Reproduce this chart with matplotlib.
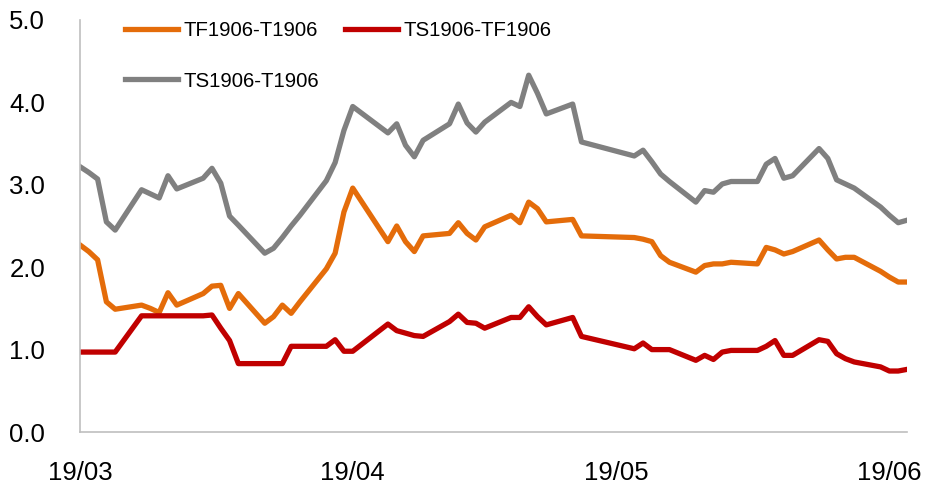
import matplotlib
matplotlib.use("Agg")
import matplotlib.pyplot as plt
import matplotlib.dates as mdates
import pandas as pd

dates = [
    "2019-03-04", "2019-03-05", "2019-03-06", "2019-03-07", "2019-03-08",
    "2019-03-11", "2019-03-12", "2019-03-13", "2019-03-14", "2019-03-15",
    "2019-03-18", "2019-03-19", "2019-03-20", "2019-03-21", "2019-03-22",
    "2019-03-25", "2019-03-26", "2019-03-27", "2019-03-28", "2019-03-29",
    "2019-04-01", "2019-04-02", "2019-04-03", "2019-04-04",
    "2019-04-08", "2019-04-09", "2019-04-10", "2019-04-11", "2019-04-12",
    "2019-04-15", "2019-04-16", "2019-04-17", "2019-04-18", "2019-04-19",
    "2019-04-22", "2019-04-23", "2019-04-24", "2019-04-25", "2019-04-26",
    "2019-04-29", "2019-04-30",
    "2019-05-06", "2019-05-07", "2019-05-08", "2019-05-09", "2019-05-10",
    "2019-05-13", "2019-05-14", "2019-05-15", "2019-05-16", "2019-05-17",
    "2019-05-20", "2019-05-21", "2019-05-22", "2019-05-23", "2019-05-24",
    "2019-05-27", "2019-05-28", "2019-05-29", "2019-05-30", "2019-05-31",
    "2019-06-03", "2019-06-04", "2019-06-05", "2019-06-06",
]

tf_t = [
    2.27, 2.19, 2.09, 1.58, 1.49,
    1.54, 1.50, 1.45, 1.69, 1.54,
    1.68, 1.77, 1.78, 1.50, 1.68,
    1.32, 1.40, 1.54, 1.44, 1.58,
    1.98, 2.17, 2.67, 2.96,
    2.31, 2.50, 2.31, 2.19, 2.38,
    2.41, 2.54, 2.41, 2.33, 2.49,
    2.63, 2.54, 2.79, 2.71, 2.55,
    2.58, 2.38,
    2.36, 2.34, 2.31, 2.14, 2.06,
    1.94, 2.02, 2.04, 2.04, 2.06,
    2.04, 2.24, 2.21, 2.16, 2.19,
    2.33, 2.21, 2.10, 2.12, 2.12,
    1.95, 1.88, 1.82, 1.82,
]

ts_tf = [
    0.97, 0.97, 0.97, 0.97, 0.97,
    1.41, 1.41, 1.41, 1.41, 1.41,
    1.41, 1.42, 1.26, 1.11, 0.83,
    0.83, 0.83, 0.83, 1.04, 1.04,
    1.04, 1.12, 0.98, 0.98,
    1.31, 1.23, 1.20, 1.17, 1.16,
    1.34, 1.43, 1.33, 1.32, 1.26,
    1.39, 1.39, 1.52, 1.40, 1.30,
    1.39, 1.16,
    1.01, 1.08, 1.00, 1.00, 1.00,
    0.87, 0.93, 0.88, 0.97, 0.99,
    0.99, 1.04, 1.11, 0.93, 0.93,
    1.12, 1.10, 0.95, 0.89, 0.85,
    0.79, 0.74, 0.74, 0.76,
]

ts_t = [
    3.22, 3.15, 3.07, 2.55, 2.45,
    2.94, 2.89, 2.84, 3.11, 2.95,
    3.08, 3.20, 3.02, 2.62, 2.51,
    2.17, 2.23, 2.36, 2.50, 2.63,
    3.05, 3.27, 3.66, 3.95,
    3.63, 3.74, 3.48, 3.34, 3.54,
    3.74, 3.98, 3.75, 3.64, 3.76,
    4.00, 3.95, 4.33, 4.11, 3.86,
    3.98, 3.52,
    3.35, 3.42, 3.28, 3.13, 3.04,
    2.79, 2.93, 2.91, 3.01, 3.04,
    3.04, 3.25, 3.32, 3.08, 3.11,
    3.44, 3.32, 3.06, 3.01, 2.96,
    2.73, 2.63, 2.54, 2.57,
]

series_labels = ["TF1906-T1906", "TS1906-TF1906", "TS1906-T1906"]
y_ticks = [0.0, 1.0, 2.0, 3.0, 4.0, 5.0]
x_tick_dates = ["2019-03-04", "2019-04-04", "2019-05-04", "2019-06-04"]

plt.rcParams["font.family"] = ["Liberation Sans", "DejaVu Sans"]

x = pd.to_datetime(dates)
fig = plt.figure(figsize=(9.32, 4.86), dpi=100)
ax = fig.add_axes([80 / 932, 54 / 486, 827 / 932, 412 / 486])

lw = 3.8
l1, = ax.plot(x, tf_t, color="#E46C0A", lw=lw, solid_joinstyle="round", label=series_labels[0])
l2, = ax.plot(x, ts_tf, color="#C00000", lw=lw, solid_joinstyle="round", label=series_labels[1])
l3, = ax.plot(x, ts_t, color="#808080", lw=lw, solid_joinstyle="round", label=series_labels[2])

ax.set_xlim(x[0], x[-1])
ax.set_ylim(0, 5)
ax.set_yticks(y_ticks)
ax.set_yticklabels([f"{v:.1f}" for v in y_ticks])
ax.set_xticks(pd.to_datetime(x_tick_dates))
ax.xaxis.set_major_formatter(mdates.DateFormatter("%y/%m"))

for s in ["top", "right"]:
    ax.spines[s].set_visible(False)
for s in ["left", "bottom"]:
    ax.spines[s].set_color("#BFBFBF")
    ax.spines[s].set_linewidth(1.2)

ax.tick_params(axis="both", length=0, labelsize=18.5, colors="black")
ax.tick_params(axis="y", pad=25)
ax.tick_params(axis="x", pad=21)

leg = fig.legend(
    handles=[l1, l3, l2],
    labels=[series_labels[0], series_labels[2], series_labels[1]],
    ncol=2,
    loc="upper left",
    bbox_to_anchor=(125 / 932, 1 - 21 / 486),
    frameon=False,
    fontsize=14.7,
    handlelength=2.6,
    handletextpad=0.25,
    columnspacing=1.3,
    labelspacing=1.55,
    borderpad=0,
    borderaxespad=0,
)

fig.savefig("out.png", dpi=100)
